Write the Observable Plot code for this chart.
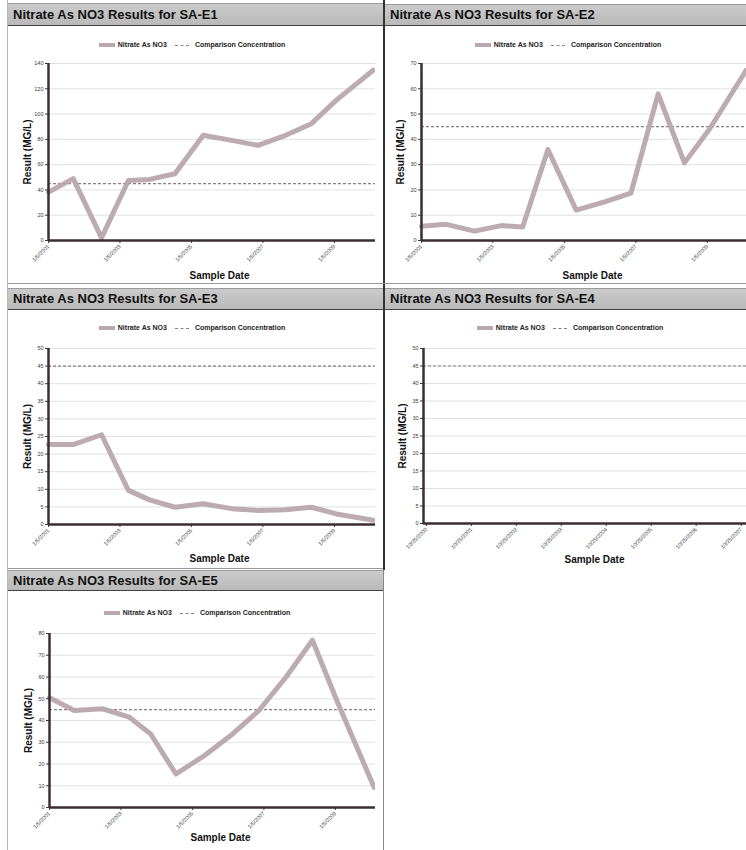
<!DOCTYPE html>
<html>
<head>
<meta charset="utf-8">
<script src="https://cdn.jsdelivr.net/npm/d3@7"></script>
<script src="https://cdn.jsdelivr.net/npm/@observablehq/plot@0.6"></script>
<style>
  html, body { margin: 0; padding: 0; background: #fff; }
  body { width: 746px; height: 850px; position: relative; overflow: hidden;
         font-family: "Liberation Sans", Arial, sans-serif; }
  .panel { position: absolute; overflow: hidden; }
  .title { position: absolute; left: 0; right: 0; background: linear-gradient(#cbcbcb, #b9b9b9);
           border-top: 1px solid #9a9a9a; border-bottom: 1.5px solid #444; box-sizing: border-box;
           font-weight: bold; font-size: 13px; color: #111; padding-left: 5px; white-space: nowrap; }
  .legend { position: absolute; height: 10px; line-height: 10px; font-size: 7px; font-weight: bold;
            color: #222; display: flex; justify-content: center; align-items: center; white-space: nowrap; }
  .sw1 { display: inline-block; width: 16px; height: 4px; background: #b9a8ae; margin-right: 3px; }
  .sw2 { display: inline-block; width: 14px; border-top: 1.2px dashed #8c7c84; margin: 0 6px 0 8px; }
  .chart { position: absolute; overflow: hidden; }
  .chart svg { max-width: none !important; height: auto; }
  .vline { position: absolute; }
</style>
</head>
<body>
<script>
// ---------- data ----------
const sampleDates = ["2001-01-05","2001-09-15","2002-07-01","2003-04-01","2003-11-05","2004-07-20",
                     "2005-05-05","2006-02-20","2006-11-15","2007-08-20","2008-05-15","2009-01-25","2010-02-05"];
const e1Values = [38.3, 48.9, 2.1, 47.5, 48.3, 52.8, 83.2, 79.2, 75.3, 83.0, 92.4, 111.0, 134.7];
const e2Values = [5.6, 6.4, 3.7, 5.9, 5.3, 36.0, 12.0, 15.3, 18.7, 58.0, 30.7, 44.0, 67.3];
const e3Values = [22.7, 22.7, 25.5, 9.7, 7.0, 4.9, 5.9, 4.5, 4.0, 4.2, 4.9, 3.0, 1.2];
const e4Values = [];
const e5Values = [50.5, 44.6, 45.4, 41.5, 33.8, 15.4, 23.8, 33.8, 44.6, 60.0, 76.9, 48.5, 9.2];
const comparisonConcentration = 45;

const sharedTicks = ["2001-01-05","2003-01-05","2005-01-05","2007-01-05","2009-01-05"];
const sharedDomain = ["2001-01-05","2010-08-01"];
const e4Ticks = ["2000-10-25","2001-10-25","2002-10-25","2003-10-25","2004-10-25","2005-10-25","2006-10-25","2007-10-25"];
const e4Domain = ["2000-10-01","2008-05-10"];

const e1YTicks = [0, 20, 40, 60, 80, 100, 120, 140];
const e2YTicks = [0, 10, 20, 30, 40, 50, 60, 70];
const e3YTicks = [0, 5, 10, 15, 20, 25, 30, 35, 40, 45, 50];
const e4YTicks = [0, 5, 10, 15, 20, 25, 30, 35, 40, 45, 50];
const e5YTicks = [0, 10, 20, 30, 40, 50, 60, 70, 80];

const wells = ["SA-E1", "SA-E2", "SA-E3", "SA-E4", "SA-E5"];
const legendLabels = ["Nitrate As NO3", "Comparison Concentration"];
const xLabel = "Sample Date";
const yLabel = "Result (MG/L)";

// ---------- layout ----------
const panels = [
  {well: wells[0], values: e1Values, dates: sampleDates, xTicks: sharedTicks, xDomain: sharedDomain, yTicks: e1YTicks,
   left: 8, top: 0, w: 375, h: 284, titleTop: 3, titleH: 23, legendTop: 40, legendC: 184, clipW: 367, ml: 40, plotTop: 63, fh: 177, sdy: 35},
  {well: wells[1], values: e2Values, dates: sampleDates, xTicks: sharedTicks, xDomain: sharedDomain, yTicks: e2YTicks,
   left: 385, top: 0, w: 361, h: 284, titleTop: 4, titleH: 22, legendTop: 40, legendC: 183, clipW: 361, ml: 36, plotTop: 63, fh: 177, sdy: 35},
  {well: wells[2], values: e3Values, dates: sampleDates, xTicks: sharedTicks, xDomain: sharedDomain, yTicks: e3YTicks,
   left: 8, top: 285, w: 375, h: 284, titleTop: 3, titleH: 22, legendTop: 38, legendC: 184, clipW: 367, ml: 40, plotTop: 63, fh: 176, sdy: 34},
  {well: wells[3], values: e4Values, dates: [], xTicks: e4Ticks, xDomain: e4Domain, yTicks: e4YTicks,
   left: 385, top: 285, w: 361, h: 284, titleTop: 3, titleH: 22, legendTop: 38, legendC: 185, clipW: 361, ml: 38, plotTop: 63, fh: 175, sdy: 36},
  {well: wells[4], values: e5Values, dates: sampleDates, xTicks: sharedTicks, xDomain: sharedDomain, yTicks: e5YTicks,
   left: 8, top: 570, w: 375, h: 280, titleTop: 0, titleH: 21, legendTop: 38, legendC: 189, clipW: 367, ml: 41, plotTop: 63, fh: 174, sdy: 30}
];

const fmt = d3.utcFormat("%-m/%-d/%Y");
const axisColor = "#3b2d33";

function makeChart(p) {
  const rows = p.values.map((v, i) => ({date: new Date(p.dates[i]), value: v}));
  const mt = 8, mb = 45, mr = 20, fw = 342;
  const xd = p.xDomain.map(d => new Date(d));
  return Plot.plot({
    width: p.ml + fw + mr,
    height: mt + p.fh + mb,
    marginLeft: p.ml, marginRight: mr, marginTop: mt, marginBottom: mb,
    style: {fontFamily: "'Liberation Sans', Arial, sans-serif", fontSize: "5.5px", color: "#3a3a3a", background: "transparent", overflow: "visible", maxWidth: "none"},
    x: {type: "utc", domain: xd},
    y: {domain: [0, d3.max(p.yTicks)]},
    marks: [
      Plot.gridY(p.yTicks, {stroke: "#bdbdbd", strokeOpacity: 0.45}),
      Plot.ruleY([comparisonConcentration], {stroke: "#8c7c84", strokeDasharray: "3,2", strokeWidth: 1.2}),
      Plot.line(rows, {x: "date", y: "value", stroke: "#b8a6ac", strokeWidth: 5, strokeOpacity: 0.95}),
      Plot.axisY(p.yTicks, {tickSize: 3, label: null, tickFormat: d => String(d), tickPadding: 2}),
      Plot.axisX(p.xTicks.map(d => new Date(d)), {tickSize: 3, label: null, tickFormat: fmt, tickRotate: -45, tickPadding: 2}),
      Plot.ruleX([xd[0]], {stroke: axisColor, strokeWidth: 2.5}),
      Plot.ruleY([0], {stroke: axisColor, strokeWidth: 2.5}),
      Plot.text([xLabel], {text: d => d, frameAnchor: "bottom", dy: p.sdy, lineAnchor: "middle", textAnchor: "middle",
                           fontSize: 10, fontWeight: "bold", fill: "#111"}),
      Plot.text([yLabel], {text: d => d, frameAnchor: "left", dx: -21, rotate: -90, textAnchor: "middle", lineAnchor: "middle",
                           fontSize: 10, fontWeight: "bold", fill: "#111"})
    ]
  });
}

for (const p of panels) {
  const panel = document.createElement("div");
  panel.className = "panel";
  Object.assign(panel.style, {left: p.left + "px", top: p.top + "px", width: p.w + "px", height: p.h + "px"});

  const title = document.createElement("div");
  title.className = "title";
  Object.assign(title.style, {top: p.titleTop + "px", height: p.titleH + "px", lineHeight: (p.titleH - 2) + "px"});
  title.textContent = "Nitrate As NO3 Results for " + p.well;
  panel.appendChild(title);

  const legend = document.createElement("div");
  legend.className = "legend";
  Object.assign(legend.style, {top: p.legendTop + "px", left: "0px", width: (2 * p.legendC) + "px"});
  legend.innerHTML = `<span class="sw1"></span><span>${legendLabels[0]}</span><span class="sw2"></span><span>${legendLabels[1]}</span>`;
  panel.appendChild(legend);

  const clip = document.createElement("div");
  clip.className = "chart";
  Object.assign(clip.style, {left: "0px", top: (p.plotTop - 8) + "px", width: p.clipW + "px", height: (p.h - p.plotTop + 8) + "px"});
  clip.appendChild(makeChart(p));
  panel.appendChild(clip);

  document.body.appendChild(panel);
}

// panel separators
const lines = [
  {left: 383, top: 0, width: 2, height: 570, bg: "#333"},
  {left: 383, top: 570, width: 1, height: 280, bg: "#888"},
  {left: 7, top: 0, width: 1, height: 850, bg: "#b5b5b5"},
  {left: 8, top: 283, width: 738, height: 1, bg: "#999"},
  {left: 8, top: 568, width: 375, height: 1, bg: "#999"}
];
for (const l of lines) {
  const d = document.createElement("div");
  d.className = "vline";
  Object.assign(d.style, {left: l.left + "px", top: l.top + "px", width: l.width + "px", height: l.height + "px", background: l.bg});
  document.body.appendChild(d);
}
</script>
</body>
</html>
